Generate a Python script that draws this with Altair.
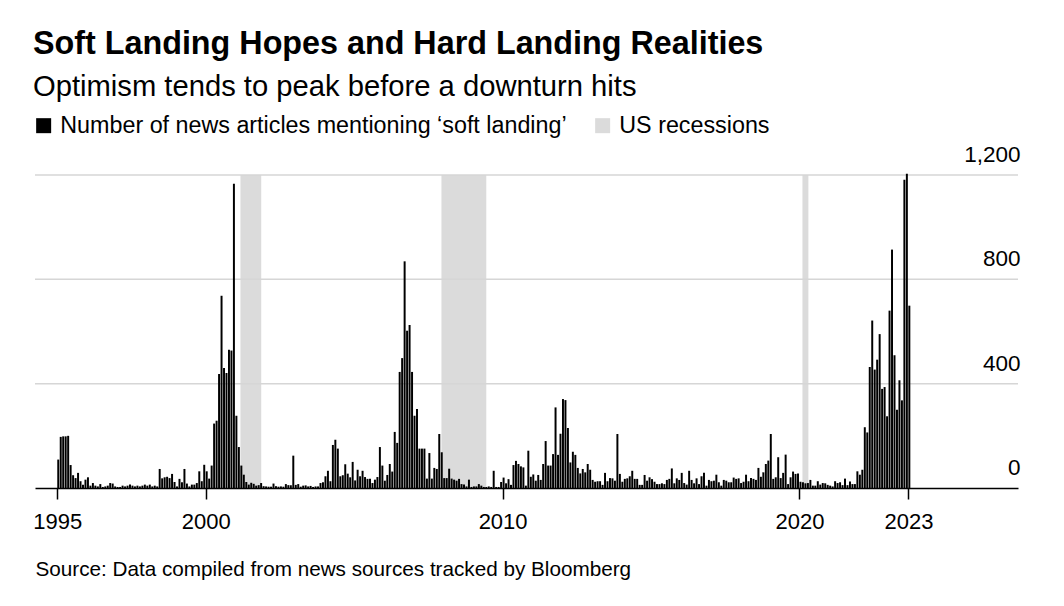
import altair as alt
import pandas as pd

FONT = "Liberation Sans"

first_year = 1995
monthly_articles = [
    109, 196, 198, 198, 200, 88, 49, 38, 58, 26, 12, 32,      # 1995
    41, 9, 19, 9, 6, 15, 4, 6, 9, 19, 17, 6,                  # 1996
    4, 4, 9, 6, 9, 13, 9, 6, 9, 6, 9, 13,                     # 1997
    9, 13, 6, 9, 6, 73, 37, 41, 43, 38, 54, 23,               # 1998
    6, 35, 22, 73, 17, 6, 13, 13, 19, 64, 26, 89,             # 1999
    64, 36, 86, 247, 258, 437, 737, 460, 441, 530, 527, 1166, # 2000
    277, 157, 86, 51, 23, 13, 20, 16, 9, 11, 19, 7,           # 2001
    6, 5, 5, 17, 7, 5, 6, 5, 15, 11, 11, 124,                 # 2002
    12, 15, 5, 9, 10, 6, 8, 4, 6, 6, 19, 22,                  # 2003
    45, 66, 26, 165, 185, 151, 45, 49, 91, 55, 41, 100,       # 2004
    29, 70, 45, 66, 42, 35, 35, 19, 32, 42, 157, 86,          # 2005
    28, 50, 92, 63, 215, 173, 445, 498, 869, 603, 625, 445,   # 2006
    277, 303, 151, 151, 151, 36, 134, 36, 77, 73, 207, 137,   # 2007
    38, 38, 74, 36, 32, 28, 35, 15, 13, 6, 32, 4,             # 2008
    6, 6, 15, 9, 4, 4, 6, 4, 66, 4, 4, 23,                    # 2009
    40, 18, 34, 12, 88, 104, 92, 83, 79, 9, 143, 43,          # 2010
    52, 28, 50, 31, 92, 180, 86, 86, 130, 309, 127, 208,      # 2011
    341, 337, 230, 98, 139, 127, 77, 56, 73, 60, 92, 70,      # 2012
    31, 24, 26, 26, 12, 58, 26, 38, 37, 28, 207, 54,          # 2013
    24, 35, 37, 45, 66, 35, 35, 12, 12, 50, 28, 41,           # 2014
    34, 24, 15, 15, 18, 15, 31, 35, 75, 18, 37, 31,           # 2015
    58, 19, 13, 66, 31, 18, 37, 15, 45, 58, 9, 31,            # 2016
    26, 28, 51, 22, 9, 31, 28, 22, 22, 40, 35, 37,            # 2017
    19, 24, 51, 26, 38, 35, 31, 77, 43, 60, 92, 105,          # 2018
    207, 35, 41, 118, 38, 58, 128, 15, 41, 63, 54, 56,        # 2019
    24, 22, 18, 19, 31, 9, 9, 26, 13, 19, 18, 12,             # 2020
    9, 6, 26, 19, 22, 11, 36, 11, 25, 15, 15, 64,             # 2021
    51, 70, 233, 213, 464, 642, 454, 492, 590, 380, 387, 275, # 2022
    680, 914, 509, 300, 413, 336, 1182, 1205, 699,            # 2023
]

recession_start = [2001.17, 2007.94, 2020.10]
recession_end = [2001.87, 2009.45, 2020.30]

x_domain = [1994.25, 2027.36]
tick_years = [1995, 2000, 2010, 2020, 2023.67]
tick_labels = ["1995", "2000", "2010", "2020", "2023"]
y_ticks = [0, 400, 800, 1200]
grid_values = [400, 800, 1200]

series_names = ["Number of news articles mentioning \u2018soft landing\u2019", "US recessions"]
series_colors = ["#000000", "#dbdbdb"]

title_text = "Soft Landing Hopes and Hard Landing Realities"
subtitle_text = "Optimism tends to peak before a downturn hits"
source_text = "Source: Data compiled from news sources tracked by Bloomberg"

# ---- tables built from the arrays ----
bars_df = pd.DataFrame({
    "start": [first_year + i / 12 for i in range(len(monthly_articles))],
    "count": monthly_articles,
})
bars_df["end"] = bars_df["start"] + 0.8 / 12
bars_df["series"] = series_names[0]

rec_df = pd.DataFrame({"start": recession_start, "end": recession_end})
rec_df["series"] = series_names[1]

grid_df = pd.DataFrame({"level": grid_values})

label_expr = ""
for v, lab in zip(tick_years, tick_labels):
    label_expr += f"abs(datum.value - {v}) < 0.01 ? '{lab}' : "
label_expr += "''"

x_scale = alt.Scale(domain=x_domain, nice=False, zero=False)
y_scale = alt.Scale(domain=[0, 1200], nice=False)

x_axis = alt.Axis(
    values=tick_years, labelExpr=label_expr, grid=False,
    domainColor="black", domainWidth=1.5, tickColor="black", tickWidth=1.5,
    tickSize=11, labelFont=FONT, labelFontSize=22, labelColor="black",
    labelPadding=12, labelFlush=False, labelOverlap=False, zindex=1,
    title=source_text, titleFont=FONT, titleFontSize=20.7, titleFontWeight="normal",
    titleColor="black", titleAnchor="start", titleAlign="left", titleBaseline="alphabetic",
    titleX=0, titleY=87,
)
y_axis = alt.Axis(
    values=y_ticks, format=",.0f", orient="right", grid=False,
    domain=False, ticks=False, tickSize=0, labelAlign="right",
    labelBaseline="alphabetic", labelPadding=2, labelOffset=-13.5, labelFont=FONT,
    labelFontSize=22.5, labelColor="black", labelFlush=False, title=None,
)

legend = alt.Legend(
    title=None, orient="none", legendX=-3, legendY=-61, direction="horizontal",
    symbolType="square", symbolSize=225, symbolStrokeWidth=0, symbolOpacity=1,
    labelFont=FONT, labelFontSize=23.3, labelColor="black", labelOffset=5,
    columnPadding=24, padding=0, labelLimit=1000,
)
color = alt.Color("series:N", scale=alt.Scale(domain=series_names, range=series_colors), legend=legend)

rects = alt.Chart(rec_df).mark_rect().encode(
    x=alt.X("start:Q", scale=x_scale, axis=x_axis),
    x2="end:Q",
    y=alt.Y(datum=1200, type="quantitative", scale=y_scale, axis=y_axis),
    y2=alt.Y2(datum=0),
    color=color,
)

grid = alt.Chart(grid_df).mark_rule(color="#d6d6d6", strokeWidth=1.5).encode(
    y=alt.Y("level:Q", scale=y_scale, axis=y_axis),
)

bars = alt.Chart(bars_df).mark_bar(strokeWidth=0).encode(
    x=alt.X("start:Q", scale=x_scale, axis=x_axis),
    x2="end:Q",
    y=alt.Y("count:Q", scale=y_scale, axis=y_axis),
    y2=alt.Y2(datum=0),
    color=color,
)

chart = alt.layer(rects, grid, bars).properties(
    width=983,
    height=313,
    background="white",
    autosize=alt.AutoSizeParams(type="none"),
    padding={"left": 27, "top": 167, "right": 20, "bottom": 110},
    title=alt.TitleParams(
        text=title_text, subtitle=subtitle_text, anchor="start", frame="group",
        font=FONT, fontSize=32.3, fontWeight="bold", color="black",
        subtitleFont=FONT, subtitleFontSize=29.2, subtitleColor="black",
        subtitlePadding=13, offset=12, dx=-2,
    ),
).configure_view(stroke=None)

chart.save("out.html", embed_options={"renderer": "svg", "actions": False})
